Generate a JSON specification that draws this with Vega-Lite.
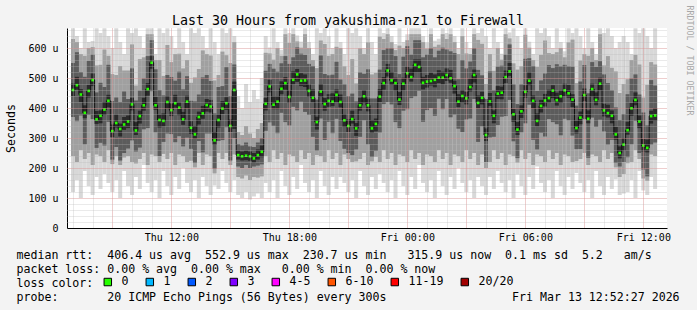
{
  "$schema": "https://vega.github.io/schema/vega-lite/v6.json",
  "width": 600,
  "height": 200,
  "autosize": {"type": "none"},
  "padding": {"left": 67, "top": 28, "right": 30, "bottom": 82},
  "background": "#f3f3f3",
  "config": {
    "view": {"fill": "white", "stroke": null},
    "font": "DejaVu Sans Mono",
    "axis": {"labelFont": "DejaVu Sans Mono", "labelFontSize": 10, "labelColor": "black", "titleFont": "DejaVu Sans Mono", "titleColor": "black", "titleFontWeight": "normal", "domainColor": "black", "labelFlush": false}
  },
  "data": {"values": [
    {"t":7.0,"a":120,"b":240,"c":370,"d":440,"m":460,"e":482,"f":550,"g":630,"h":666},
    {"t":7.2,"a":160,"b":220,"c":356,"d":461,"m":476,"e":504,"f":586,"g":620,"h":640},
    {"t":7.4,"a":100,"b":260,"c":375,"d":420,"m":445,"e":463,"f":520,"g":580,"h":600},
    {"t":7.6,"a":190,"b":230,"c":279,"d":366,"m":384,"e":409,"f":504,"g":574,"h":666},
    {"t":7.8,"a":140,"b":250,"c":377,"d":435,"m":457,"e":477,"f":557,"g":600,"h":620},
    {"t":8.0,"a":110,"b":210,"c":363,"d":473,"m":493,"e":515,"f":578,"g":603,"h":623},
    {"t":8.2,"a":170,"b":245,"c":267,"d":347,"m":362,"e":390,"f":452,"g":542,"h":666},
    {"t":8.4,"a":130,"b":240,"c":284,"d":349,"m":374,"e":392,"f":484,"g":544,"h":650},
    {"t":8.6,"a":180,"b":220,"c":275,"d":377,"m":395,"e":420,"f":470,"g":595,"h":666},
    {"t":8.8,"a":150,"b":260,"c":354,"d":402,"m":424,"e":444,"f":544,"g":574,"h":640},
    {"t":9.0,"a":120,"b":213,"c":228,"d":303,"m":323,"e":345,"f":423,"g":513,"h":600},
    {"t":9.2,"a":160,"b":240,"c":270,"d":335,"m":350,"e":378,"f":435,"g":510,"h":666},
    {"t":9.4,"a":100,"b":210,"c":225,"d":305,"m":330,"e":348,"f":420,"g":540,"h":620},
    {"t":9.6,"a":190,"b":235,"c":250,"d":327,"m":345,"e":370,"f":455,"g":525,"h":580},
    {"t":9.8,"a":140,"b":240,"c":265,"d":333,"m":355,"e":375,"f":430,"g":525,"h":666},
    {"t":10.0,"a":110,"b":220,"c":292,"d":392,"m":412,"e":434,"f":532,"g":612,"h":650},
    {"t":10.2,"a":170,"b":215,"c":255,"d":310,"m":325,"e":353,"f":425,"g":475,"h":666},
    {"t":10.4,"a":130,"b":230,"c":268,"d":348,"m":373,"e":391,"f":458,"g":563,"h":640},
    {"t":10.6,"a":210,"b":250,"c":329,"d":391,"m":409,"e":434,"f":499,"g":569,"h":600},
    {"t":10.8,"a":150,"b":210,"c":333,"d":441,"m":463,"e":483,"f":573,"g":646,"h":666},
    {"t":11.0,"a":120,"b":245,"c":456,"d":531,"m":551,"e":573,"f":626,"g":646,"h":666},
    {"t":11.2,"a":160,"b":240,"c":319,"d":394,"m":409,"e":437,"f":529,"g":560,"h":580},
    {"t":11.4,"a":100,"b":220,"c":240,"d":335,"m":360,"e":378,"f":460,"g":560,"h":666},
    {"t":11.6,"a":190,"b":247,"c":287,"d":339,"m":357,"e":382,"f":442,"g":507,"h":650},
    {"t":11.8,"a":140,"b":230,"c":315,"d":398,"m":420,"e":440,"f":510,"g":610,"h":666},
    {"t":12.0,"a":110,"b":250,"c":313,"d":373,"m":393,"e":415,"f":503,"g":553,"h":640},
    {"t":12.2,"a":170,"b":210,"c":286,"d":401,"m":416,"e":444,"f":491,"g":580,"h":600},
    {"t":12.4,"a":130,"b":245,"c":306,"d":376,"m":401,"e":419,"f":521,"g":581,"h":666},
    {"t":12.6,"a":200,"b":240,"c":272,"d":344,"m":362,"e":387,"f":462,"g":532,"h":620},
    {"t":12.8,"a":150,"b":220,"c":301,"d":399,"m":421,"e":441,"f":506,"g":560,"h":580},
    {"t":13.0,"a":120,"b":224,"c":264,"d":314,"m":334,"e":356,"f":424,"g":484,"h":666},
    {"t":13.2,"a":160,"b":202,"c":217,"d":297,"m":312,"e":340,"f":422,"g":502,"h":650},
    {"t":13.4,"a":100,"b":250,"c":290,"d":345,"m":370,"e":388,"f":445,"g":530,"h":666},
    {"t":13.6,"a":170,"b":210,"c":252,"d":364,"m":382,"e":407,"f":502,"g":592,"h":640},
    {"t":13.8,"a":140,"b":245,"c":315,"d":388,"m":410,"e":430,"f":510,"g":580,"h":600},
    {"t":14.0,"a":110,"b":240,"c":315,"d":385,"m":405,"e":427,"f":490,"g":575,"h":666},
    {"t":14.2,"a":142,"b":182,"c":197,"d":277,"m":292,"e":320,"f":382,"g":492,"h":620},
    {"t":14.4,"a":130,"b":250,"c":290,"d":335,"m":360,"e":378,"f":470,"g":510,"h":580},
    {"t":14.6,"a":190,"b":230,"c":293,"d":380,"m":398,"e":423,"f":473,"g":588,"h":666},
    {"t":14.8,"a":150,"b":250,"c":336,"d":394,"m":416,"e":436,"f":536,"g":576,"h":650},
    {"t":15.0,"a":120,"b":210,"c":225,"d":320,"m":340,"e":362,"f":440,"g":550,"h":666},
    {"t":15.2,"a":160,"b":245,"c":300,"d":330,"m":460,"e":488,"f":545,"g":620,"h":640},
    {"t":15.4,"a":110,"b":170,"c":205,"d":228,"m":243,"e":258,"f":280,"g":320,"h":440},
    {"t":15.6,"a":100,"b":165,"c":200,"d":225,"m":239,"e":255,"f":275,"g":310,"h":400},
    {"t":15.8,"a":120,"b":175,"c":210,"d":226,"m":241,"e":258,"f":285,"g":340,"h":480},
    {"t":16.0,"a":95,"b":160,"c":200,"d":224,"m":239,"e":255,"f":272,"g":315,"h":420},
    {"t":16.2,"a":105,"b":170,"c":205,"d":218,"m":232,"e":250,"f":270,"g":300,"h":460},
    {"t":16.4,"a":115,"b":168,"c":208,"d":228,"m":243,"e":262,"f":285,"g":330,"h":430},
    {"t":16.6,"a":100,"b":172,"c":212,"d":236,"m":254,"e":275,"f":300,"g":350,"h":500},
    {"t":16.8,"a":150,"b":240,"c":324,"d":392,"m":414,"e":434,"f":524,"g":584,"h":640},
    {"t":17.0,"a":120,"b":220,"c":352,"d":452,"m":472,"e":494,"f":547,"g":582,"h":602},
    {"t":17.2,"a":160,"b":260,"c":341,"d":396,"m":411,"e":439,"f":531,"g":561,"h":666},
    {"t":17.4,"a":100,"b":230,"c":316,"d":396,"m":421,"e":439,"f":521,"g":600,"h":620},
    {"t":17.6,"a":190,"b":250,"c":384,"d":446,"m":464,"e":489,"f":549,"g":574,"h":594},
    {"t":17.8,"a":140,"b":210,"c":353,"d":461,"m":483,"e":503,"f":573,"g":646,"h":666},
    {"t":18.0,"a":110,"b":245,"c":342,"d":417,"m":437,"e":459,"f":547,"g":617,"h":650},
    {"t":18.2,"a":170,"b":240,"c":404,"d":479,"m":494,"e":522,"f":569,"g":646,"h":666},
    {"t":18.4,"a":130,"b":220,"c":392,"d":487,"m":512,"e":530,"f":602,"g":622,"h":642},
    {"t":18.6,"a":210,"b":260,"c":421,"d":473,"m":491,"e":516,"f":581,"g":601,"h":621},
    {"t":18.8,"a":150,"b":230,"c":387,"d":470,"m":492,"e":512,"f":577,"g":646,"h":666},
    {"t":19.0,"a":120,"b":250,"c":377,"d":437,"m":457,"e":479,"f":547,"g":600,"h":620},
    {"t":19.2,"a":160,"b":210,"c":304,"d":419,"m":434,"e":462,"f":540,"g":560,"h":580},
    {"t":19.4,"a":100,"b":243,"c":258,"d":328,"m":353,"e":371,"f":428,"g":533,"h":666},
    {"t":19.6,"a":190,"b":240,"c":365,"d":437,"m":455,"e":480,"f":575,"g":625,"h":650},
    {"t":19.8,"a":140,"b":220,"c":293,"d":391,"m":413,"e":433,"f":513,"g":613,"h":666},
    {"t":20.0,"a":110,"b":260,"c":354,"d":404,"m":424,"e":446,"f":509,"g":574,"h":640},
    {"t":20.2,"a":170,"b":230,"c":316,"d":406,"m":421,"e":449,"f":511,"g":580,"h":600},
    {"t":20.4,"a":130,"b":250,"c":364,"d":419,"m":444,"e":462,"f":554,"g":604,"h":666},
    {"t":20.6,"a":170,"b":210,"c":290,"d":402,"m":420,"e":445,"f":495,"g":600,"h":620},
    {"t":20.8,"a":150,"b":245,"c":264,"d":337,"m":359,"e":379,"f":479,"g":539,"h":580},
    {"t":21.0,"a":120,"b":230,"c":250,"d":320,"m":340,"e":362,"f":440,"g":510,"h":666},
    {"t":21.2,"a":160,"b":220,"c":243,"d":348,"m":363,"e":391,"f":448,"g":563,"h":650},
    {"t":21.4,"a":100,"b":222,"c":262,"d":307,"m":332,"e":350,"f":422,"g":482,"h":666},
    {"t":21.6,"a":190,"b":230,"c":304,"d":391,"m":409,"e":434,"f":519,"g":599,"h":640},
    {"t":21.8,"a":140,"b":250,"c":359,"d":417,"m":439,"e":459,"f":514,"g":580,"h":600},
    {"t":22.0,"a":110,"b":210,"c":279,"d":389,"m":409,"e":431,"f":529,"g":619,"h":666},
    {"t":22.2,"a":170,"b":222,"c":237,"d":317,"m":332,"e":360,"f":432,"g":512,"h":620},
    {"t":22.4,"a":130,"b":237,"c":257,"d":322,"m":347,"e":365,"f":432,"g":517,"h":580},
    {"t":22.6,"a":180,"b":220,"c":318,"d":420,"m":438,"e":463,"f":528,"g":638,"h":666},
    {"t":22.8,"a":150,"b":260,"c":413,"d":461,"m":483,"e":503,"f":593,"g":630,"h":650},
    {"t":23.0,"a":120,"b":230,"c":420,"d":505,"m":525,"e":547,"f":600,"g":646,"h":666},
    {"t":23.2,"a":160,"b":250,"c":412,"d":477,"m":492,"e":520,"f":600,"g":620,"h":640},
    {"t":23.4,"a":100,"b":210,"c":353,"d":458,"m":483,"e":501,"f":573,"g":593,"h":613},
    {"t":23.6,"a":190,"b":245,"c":333,"d":410,"m":428,"e":453,"f":513,"g":608,"h":666},
    {"t":23.8,"a":140,"b":240,"c":391,"d":459,"m":481,"e":501,"f":571,"g":600,"h":620},
    {"t":24.0,"a":110,"b":220,"c":396,"d":496,"m":516,"e":538,"f":606,"g":626,"h":646},
    {"t":24.2,"a":170,"b":260,"c":433,"d":488,"m":503,"e":531,"f":578,"g":646,"h":666},
    {"t":24.4,"a":130,"b":230,"c":439,"d":519,"m":544,"e":562,"f":626,"g":646,"h":666},
    {"t":24.6,"a":210,"b":250,"c":457,"d":519,"m":537,"e":562,"f":626,"g":646,"h":666},
    {"t":24.8,"a":150,"b":210,"c":354,"d":462,"m":484,"e":504,"f":569,"g":620,"h":640},
    {"t":25.0,"a":120,"b":245,"c":393,"d":468,"m":488,"e":510,"f":578,"g":598,"h":618},
    {"t":25.2,"a":160,"b":240,"c":400,"d":475,"m":490,"e":518,"f":600,"g":646,"h":666},
    {"t":25.4,"a":100,"b":220,"c":374,"d":469,"m":494,"e":512,"f":569,"g":604,"h":624},
    {"t":25.6,"a":190,"b":260,"c":431,"d":483,"m":501,"e":526,"f":591,"g":611,"h":631},
    {"t":25.8,"a":140,"b":230,"c":396,"d":479,"m":501,"e":521,"f":601,"g":646,"h":666},
    {"t":26.0,"a":110,"b":250,"c":430,"d":490,"m":510,"e":532,"f":595,"g":630,"h":650},
    {"t":26.2,"a":170,"b":210,"c":369,"d":484,"m":499,"e":527,"f":589,"g":646,"h":666},
    {"t":26.4,"a":130,"b":245,"c":378,"d":448,"m":473,"e":491,"f":583,"g":620,"h":640},
    {"t":26.6,"a":200,"b":240,"c":331,"d":403,"m":421,"e":446,"f":496,"g":580,"h":600},
    {"t":26.8,"a":150,"b":220,"c":320,"d":418,"m":440,"e":460,"f":560,"g":640,"h":666},
    {"t":27.0,"a":120,"b":260,"c":362,"d":412,"m":432,"e":454,"f":532,"g":582,"h":620},
    {"t":27.2,"a":160,"b":230,"c":365,"d":455,"m":470,"e":498,"f":555,"g":580,"h":600},
    {"t":27.4,"a":100,"b":250,"c":430,"d":485,"m":510,"e":528,"f":600,"g":646,"h":666},
    {"t":27.6,"a":170,"b":210,"c":287,"d":399,"m":417,"e":442,"f":527,"g":627,"h":650},
    {"t":27.8,"a":140,"b":245,"c":339,"d":412,"m":434,"e":454,"f":509,"g":614,"h":666},
    {"t":28.0,"a":110,"b":200,"c":220,"d":290,"m":310,"e":332,"f":430,"g":480,"h":640},
    {"t":28.2,"a":170,"b":220,"c":302,"d":407,"m":422,"e":450,"f":522,"g":580,"h":600},
    {"t":28.4,"a":130,"b":260,"c":304,"d":349,"m":374,"e":392,"f":459,"g":524,"h":666},
    {"t":28.6,"a":190,"b":230,"c":343,"d":430,"m":448,"e":473,"f":538,"g":600,"h":620},
    {"t":28.8,"a":150,"b":250,"c":371,"d":429,"m":451,"e":471,"f":541,"g":561,"h":581},
    {"t":29.0,"a":120,"b":210,"c":373,"d":483,"m":503,"e":525,"f":578,"g":646,"h":666},
    {"t":29.2,"a":160,"b":245,"c":427,"d":507,"m":522,"e":550,"f":612,"g":632,"h":652},
    {"t":29.4,"a":100,"b":240,"c":289,"d":354,"m":379,"e":397,"f":479,"g":549,"h":666},
    {"t":29.6,"a":178,"b":218,"c":233,"d":310,"m":328,"e":353,"f":413,"g":528,"h":640},
    {"t":29.8,"a":140,"b":260,"c":319,"d":367,"m":389,"e":409,"f":479,"g":539,"h":600},
    {"t":30.0,"a":110,"b":230,"c":349,"d":434,"m":454,"e":476,"f":564,"g":644,"h":666},
    {"t":30.2,"a":170,"b":250,"c":411,"d":476,"m":491,"e":519,"f":566,"g":601,"h":621},
    {"t":30.4,"a":130,"b":210,"c":294,"d":399,"m":424,"e":442,"f":540,"g":560,"h":580},
    {"t":30.6,"a":205,"b":245,"c":262,"d":339,"m":357,"e":382,"f":457,"g":537,"h":666},
    {"t":30.8,"a":150,"b":240,"c":317,"d":385,"m":407,"e":427,"f":492,"g":577,"h":650},
    {"t":31.0,"a":120,"b":220,"c":305,"d":405,"m":425,"e":447,"f":515,"g":625,"h":666},
    {"t":31.2,"a":160,"b":260,"c":363,"d":418,"m":433,"e":461,"f":543,"g":583,"h":640},
    {"t":31.4,"a":100,"b":230,"c":353,"d":433,"m":458,"e":476,"f":533,"g":580,"h":600},
    {"t":31.6,"a":190,"b":250,"c":346,"d":408,"m":426,"e":451,"f":546,"g":586,"h":666},
    {"t":31.8,"a":140,"b":210,"c":309,"d":417,"m":439,"e":459,"f":539,"g":600,"h":620},
    {"t":32.0,"a":110,"b":245,"c":364,"d":439,"m":459,"e":481,"f":544,"g":569,"h":589},
    {"t":32.2,"a":170,"b":240,"c":359,"d":434,"m":449,"e":477,"f":539,"g":619,"h":666},
    {"t":32.4,"a":130,"b":220,"c":308,"d":403,"m":428,"e":446,"f":538,"g":628,"h":650},
    {"t":32.6,"a":183,"b":223,"c":263,"d":315,"m":333,"e":358,"f":408,"g":483,"h":666},
    {"t":32.8,"a":150,"b":230,"c":263,"d":346,"m":368,"e":388,"f":488,"g":558,"h":640},
    {"t":33.0,"a":120,"b":250,"c":363,"d":423,"m":443,"e":465,"f":543,"g":580,"h":600},
    {"t":33.2,"a":160,"b":210,"c":234,"d":349,"m":364,"e":392,"f":449,"g":574,"h":666},
    {"t":33.4,"a":100,"b":245,"c":368,"d":438,"m":463,"e":481,"f":553,"g":600,"h":620},
    {"t":33.6,"a":190,"b":240,"c":337,"d":409,"m":427,"e":452,"f":537,"g":560,"h":580},
    {"t":33.8,"a":140,"b":220,"c":361,"d":459,"m":481,"e":501,"f":556,"g":646,"h":666},
    {"t":34.0,"a":110,"b":260,"c":322,"d":372,"m":392,"e":414,"f":512,"g":542,"h":650},
    {"t":34.2,"a":170,"b":230,"c":278,"d":368,"m":383,"e":411,"f":483,"g":573,"h":666},
    {"t":34.4,"a":130,"b":250,"c":294,"d":349,"m":374,"e":392,"f":459,"g":534,"h":640},
    {"t":34.6,"a":162,"b":202,"c":217,"d":294,"m":312,"e":337,"f":402,"g":522,"h":600},
    {"t":34.8,"a":110,"b":170,"c":205,"d":232,"m":250,"e":272,"f":360,"g":450,"h":620},
    {"t":35.0,"a":115,"b":180,"c":220,"d":258,"m":278,"e":300,"f":380,"g":480,"h":640},
    {"t":35.2,"a":120,"b":216,"c":236,"d":311,"m":326,"e":354,"f":446,"g":496,"h":620},
    {"t":35.4,"a":160,"b":220,"c":279,"d":374,"m":399,"e":417,"f":499,"g":560,"h":580},
    {"t":35.6,"a":100,"b":260,"c":357,"d":409,"m":427,"e":452,"f":512,"g":577,"h":666},
    {"t":35.8,"a":190,"b":230,"c":250,"d":333,"m":355,"e":375,"f":445,"g":545,"h":650},
    {"t":36.0,"a":125,"b":165,"c":195,"d":255,"m":275,"e":297,"f":385,"g":435,"h":666},
    {"t":36.2,"a":110,"b":157,"c":172,"d":252,"m":267,"e":295,"f":342,"g":477,"h":640},
    {"t":36.4,"a":170,"b":245,"c":278,"d":348,"m":373,"e":391,"f":493,"g":553,"h":600},
    {"t":36.6,"a":130,"b":240,"c":285,"d":357,"m":375,"e":400,"f":475,"g":545,"h":666}
  ]},
  "layer": [
    {
      "mark": {"type": "bar", "width": 4, "color": "#d8d8d8", "clip": true},
      "encoding": {
        "x": {"field": "t", "type": "quantitative", "scale": {"domain": [6.95, 36.95], "nice": false, "zero": false},
          "axis": {"orient": "bottom", "values": [7,8,9,10,11,12,13,14,15,16,17,18,19,20,21,22,23,24,25,26,27,28,29,30,31,32,33,34,35,36], "grid": true, "gridColor": "#b8b8b8", "gridDash": [1, 1], "gridOpacity": 0.6, "labels": false, "ticks": false, "domain": false, "title": null, "zindex": 1}},
        "y": {"field": "a", "type": "quantitative", "scale": {"domain": [0, 666.67], "nice": false, "zero": true},
          "axis": {"orient": "left", "values": [20,40,60,80,100,120,140,160,180,200,220,240,260,280,300,320,340,360,380,400,420,440,460,480,500,520,540,560,580,600,620,640,660], "grid": true, "gridColor": "#b8b8b8", "gridDash": [1, 1], "gridOpacity": 0.6, "labels": false, "ticks": false, "domain": false, "title": null, "zindex": 1}},
        "y2": {"field": "h"}
      }
    },
    {
      "mark": {"type": "bar", "width": 4, "color": "#a0a0a0", "clip": true},
      "encoding": {
        "x": {"field": "t", "type": "quantitative",
          "axis": {"orient": "bottom", "values": [9,12,15,18,21,24,27,30,33,36], "grid": true, "gridColor": "#ff7070", "gridDash": [1, 1], "gridOpacity": 0.45, "labels": false, "ticks": false, "domain": false, "title": null, "zindex": 1}},
        "y": {"field": "b", "type": "quantitative",
          "axis": {"orient": "left", "values": [100,200,300,400,500,600], "grid": true, "gridColor": "#ff7070", "gridDash": [1, 1], "gridOpacity": 0.45, "labels": false, "ticks": false, "domain": false, "title": null, "zindex": 1}},
        "y2": {"field": "g"}
      }
    },
    {
      "mark": {"type": "bar", "width": 4, "color": "#5c5c5c", "clip": true},
      "encoding": {
        "x": {"field": "t", "type": "quantitative",
          "axis": {"orient": "bottom", "values": [12,18,24,30,36], "labelExpr": "datum.value < 24 ? 'Thu ' + datum.value + ':00' : 'Fri ' + ((datum.value - 24) < 10 ? '0' : '') + (datum.value - 24) + ':00'", "grid": false, "ticks": false, "domain": true, "labelPadding": 4, "labelFontSize": 10,
            "title": ["median rtt:\u00a0\u00a0406.4 us avg\u00a0\u00a0552.9 us max\u00a0\u00a0230.7 us min\u00a0\u00a0\u00a0315.9 us now\u00a0\u00a00.1 ms sd\u00a0\u00a05.2\u00a0\u00a0\u00a0am/s", "packet loss: 0.00 % avg\u00a0\u00a00.00 % max\u00a0\u00a0\u00a00.00 % min\u00a0\u00a00.00 % now", "loss color:", "probe:\u00a0\u00a0\u00a0\u00a0\u00a0\u00a0\u00a020 ICMP Echo Pings (56 Bytes) every 300s\u00a0\u00a0\u00a0\u00a0\u00a0\u00a0\u00a0\u00a0\u00a0\u00a0\u00a0\u00a0\u00a0\u00a0\u00a0\u00a0\u00a0\u00a0Fri Mar 13 12:52:27 2026"],
            "titleX": -51, "titleY": 30, "titleAlign": "left", "titleBaseline": "alphabetic", "titleAngle": 0, "titleFontSize": 11.6, "titleLineHeight": 14}},
        "y": {"field": "c", "type": "quantitative",
          "axis": {"orient": "left", "values": [0,100,200,300,400,500,600], "labelExpr": "datum.value == 0 ? '0\u00a0\u00a0' : datum.value + ' u'", "grid": false, "ticks": false, "domain": true, "labelPadding": 9, "labelFontSize": 10,
            "title": "Seconds", "titleX": -56, "titleY": 100, "titleAngle": -90, "titleAlign": "center", "titleBaseline": "middle", "titleFontSize": 11.6}},
        "y2": {"field": "f"}
      }
    },
    {
      "mark": {"type": "bar", "width": 4, "color": "#2a2a2a", "clip": true},
      "encoding": {
        "x": {"field": "t", "type": "quantitative",
          "axis": {"orient": "top", "labels": false, "ticks": false, "domain": false, "grid": false,
            "title": "Last 30 Hours from yakushima-nz1 to Firewall", "titleX": 280.5, "titleY": -4, "titleAlign": "center", "titleBaseline": "alphabetic", "titleFontSize": 13.3}},
        "y": {"field": "d", "type": "quantitative",
          "axis": {"orient": "right", "labels": false, "ticks": false, "domain": false, "grid": false,
            "title": "RRDTOOL / TOBI OETIKER", "titleX": 21, "titleY": -23, "titleAngle": 90, "titleAlign": "left", "titleBaseline": "middle", "titleFontSize": 8.3, "titleColor": "#a8a8a8"}},
        "y2": {"field": "e"}
      }
    },
    {
      "mark": {"type": "line", "interpolate": "step", "color": "#111111", "strokeWidth": 1, "clip": true},
      "encoding": {
        "x": {"field": "t", "type": "quantitative", "axis": null},
        "y": {"field": "m", "type": "quantitative", "axis": null}
      }
    },
    {
      "mark": {"type": "square", "size": 7, "filled": true, "opacity": 1, "clip": true},
      "encoding": {
        "x": {"field": "t", "type": "quantitative", "axis": null},
        "y": {"field": "m", "type": "quantitative", "axis": null},
        "color": {"datum": "0", "type": "nominal",
          "scale": {"domain": ["0","1","2","3","4-5","6-10","11-19","20/20"], "range": ["#26ff00","#00b8ff","#0059ff","#7e00ff","#ff00ff","#ff5500","#ff0000","#a10000"]},
          "legend": {"title": null, "orient": "none", "legendX": 35, "legendY": 248, "direction": "horizontal", "columns": 8, "padding": 0, "symbolType": "square", "symbolSize": 56, "symbolStrokeColor": "black", "symbolStrokeWidth": 1, "symbolOpacity": 1, "labelFont": "DejaVu Sans Mono", "labelFontSize": 11.6, "labelColor": "black", "labelOffset": 8, "columnPadding": 15}}
      }
    }
  ],
  "resolve": {"axis": {"x": "independent", "y": "independent"}}
}
